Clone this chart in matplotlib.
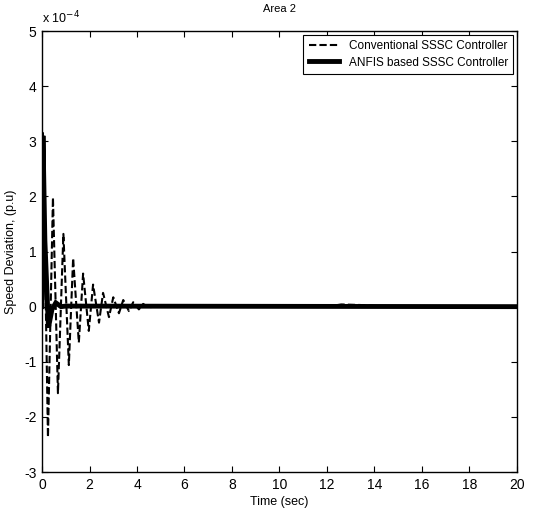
import matplotlib
matplotlib.use("Agg")
import matplotlib.pyplot as plt

plt.rcParams['font.family'] = ['Liberation Sans', 'DejaVu Sans']
plt.rcParams['axes.unicode_minus'] = False

# values in units of 1e-4 p.u.
conv_t = [0, 0.04, 0.25, 0.46, 0.67, 0.9, 1.13, 1.31, 1.55, 1.73, 1.97, 2.15,
          2.4, 2.57, 2.82, 3.0, 3.24, 3.42, 3.66, 3.84, 4.08, 4.26, 4.5, 4.8,
          5.2, 12.0, 12.6, 13.4, 14.5, 20]
conv_v = [0, 3.15, -2.37, 1.98, -1.57, 1.32, -1.06, 0.88, -0.65, 0.6, -0.44,
          0.4, -0.29, 0.25, -0.19, 0.17, -0.12, 0.12, -0.08, 0.08, -0.05, 0.05,
          -0.02, 0.02, 0, 0, 0.04, 0.03, 0, 0]

anfis_t = [0, 0.04, 0.12, 0.27, 0.42, 0.58, 0.8, 1.0, 20]
anfis_v = [0, 3.1, 1.2, -0.38, -0.05, 0.07, 0.0, 0.01, 0]

fig = plt.figure(figsize=(5.36, 5.13), dpi=100)
ax = fig.add_axes([0.0784, 0.0799, 0.886, 0.8596])

ax.plot(conv_t, conv_v, color='black', lw=1.5, linestyle=(0, (3.5, 1.5)),
        label='Conventional SSSC Controller')
ax.plot(anfis_t, anfis_v, color='black', lw=3.5, solid_joinstyle='miter',
        label='ANFIS based SSSC Controller')

ax.set_xlim(0, 20)
ax.set_ylim(-3, 5)
ax.set_xticks(range(0, 21, 2))
ax.set_yticks(range(-3, 6))
ax.tick_params(direction='in', top=True, right=True, labelsize=10, length=4,
               width=0.8, pad=4)
for s in ax.spines.values():
    s.set_linewidth(1.0)

ax.set_xlabel('Time (sec)', fontsize=9, labelpad=3)
ax.set_ylabel('Speed Deviation, (p.u)', fontsize=9, labelpad=5)
ax.set_title('Area 2', fontsize=8, pad=14)
ax.text(0.0, 1.01, 'x 10$^{-4}$', transform=ax.transAxes, fontsize=9,
        ha='left', va='bottom')

leg = ax.legend(loc='upper right', fontsize=8.5, frameon=True, fancybox=False,
                edgecolor='black', framealpha=1, borderaxespad=0.3,
                handlelength=2.6, labelspacing=0.4, borderpad=0.45)
leg.get_frame().set_linewidth(0.8)

fig.savefig('out.png', dpi=100)
